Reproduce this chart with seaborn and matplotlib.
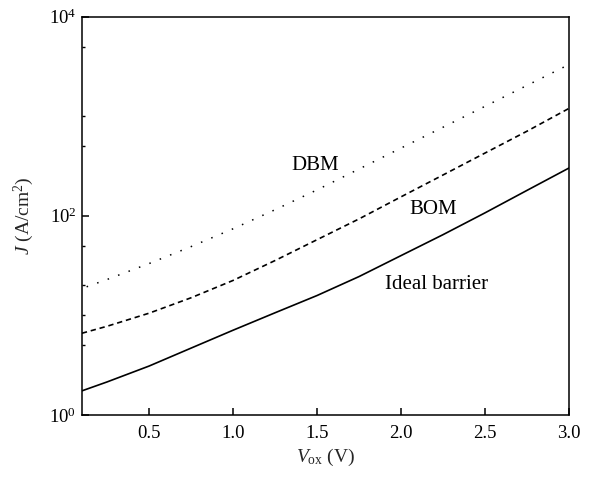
import numpy as np
import pandas as pd
import matplotlib
matplotlib.use("Agg")
import matplotlib.pyplot as plt
import seaborn as sns
from matplotlib.ticker import FixedLocator, NullFormatter, LogFormatterSciNotation

# ---- data ----
v_ox = [0.1, 0.25, 0.5, 0.75, 1.0, 1.25, 1.5, 1.75, 2.0, 2.25, 2.5, 2.75, 3.0]
j_ideal = [1.74, 2.14, 3.09, 4.68, 7.08, 10.6, 15.8, 24.5, 39.8, 64.6, 107, 180, 302]
j_bom = [6.6, 7.76, 10.5, 15.0, 22.4, 35.5, 57.5, 93, 155, 257, 427, 708, 1200]
j_dbm = [18.6, 22.9, 33.1, 49, 74, 115, 182, 295, 479, 776, 1259, 2042, 3311]

x_ticks = [0.5, 1.0, 1.5, 2.0, 2.5, 3.0]
y_major = [1, 100, 10000]
y_minor = [5, 10, 20, 50, 500, 1000, 5000]

labels = {"DBM": (1.49, 320), "BOM": (2.19, 117), "Ideal barrier": (2.21, 20.3)}

sns.set_style("white")
plt.rcParams["font.family"] = ["Liberation Serif", "DejaVu Serif"]
plt.rcParams["mathtext.fontset"] = "custom"
plt.rcParams["mathtext.rm"] = "Liberation Serif"
plt.rcParams["mathtext.it"] = "Liberation Serif:italic"

fig = plt.figure(figsize=(5.89, 4.79), dpi=100)
ax = fig.add_axes([0.139, 0.134, 0.827, 0.831])

df = pd.DataFrame({"V": v_ox, "ideal": j_ideal, "bom": j_bom, "dbm": j_dbm})
sns.lineplot(data=df, x="V", y="ideal", ax=ax, color="black", lw=1.2)
sns.lineplot(data=df, x="V", y="bom", ax=ax, color="black", lw=1.2,
             linestyle=(0, (3.2, 2.3)))
sns.lineplot(data=df, x="V", y="dbm", ax=ax, color="black", lw=1.1,
             linestyle=(4, (1, 6.3)))

ax.set_yscale("log")
ax.set_xlim(0.1, 3.0)
ax.set_ylim(1, 10000)

ax.xaxis.set_major_locator(FixedLocator(x_ticks))
ax.set_xticklabels([f"{t:.1f}" for t in x_ticks])
ax.yaxis.set_major_locator(FixedLocator(y_major))
ax.yaxis.set_major_formatter(LogFormatterSciNotation())
ax.yaxis.set_minor_locator(FixedLocator(y_minor))
ax.yaxis.set_minor_formatter(NullFormatter())

ax.tick_params(axis="both", which="major", direction="in", length=5, width=1.1,
               labelsize=13.5, color="black", labelcolor="black")
ax.tick_params(axis="y", which="minor", direction="in", length=2.5, width=1.0,
               color="black", left=True)
ax.tick_params(axis="x", which="major", pad=7, bottom=True, top=False)
ax.tick_params(axis="y", which="major", pad=4, left=True, right=False)

for s in ax.spines.values():
    s.set_visible(True)
    s.set_color("black")
    s.set_linewidth(1.1)

ax.set_xlabel(r"$V_{\mathrm{ox}}$ (V)", fontsize=14, labelpad=4)
ax.set_ylabel(r"$J$ (A/cm$^2$)", fontsize=14, labelpad=9)

for txt, (x, y) in labels.items():
    ax.text(x, y, txt, fontsize=15, ha="center", va="center", color="black")

fig.savefig("out.png", dpi=100, facecolor="white")
